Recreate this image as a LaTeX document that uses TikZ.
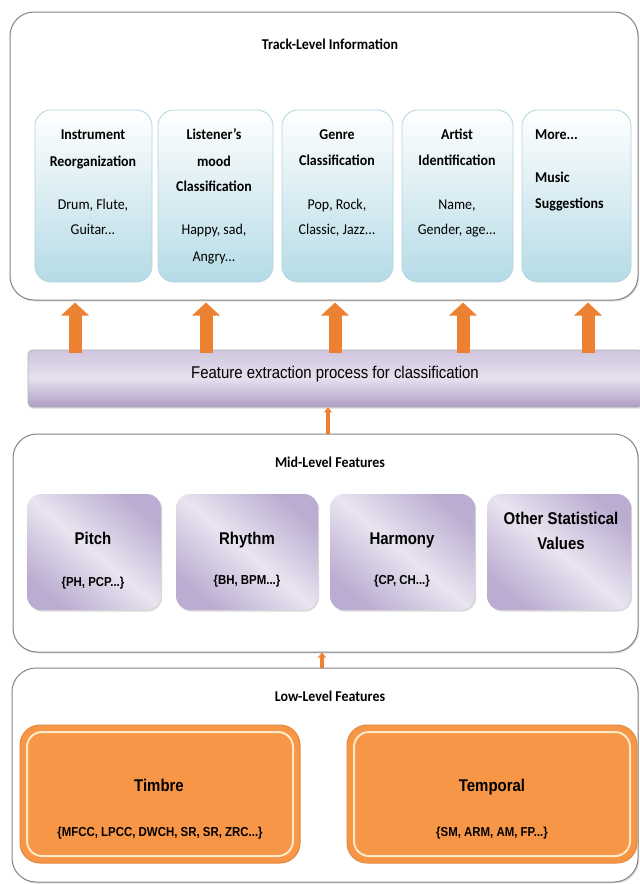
\documentclass[tikz,border=0pt]{standalone}
\usepackage{fontspec}
\setmainfont{Carlito}
\newfontfamily\calfont[FakeStretch=0.93]{Carlito}
\newfontfamily\arfont[FakeStretch=0.88]{Liberation Sans}
\usetikzlibrary{shadows,arrows.meta}
\definecolor{orA}{HTML}{F79646}
\definecolor{orRim}{HTML}{E2893F}
\definecolor{orAr}{HTML}{EC8132}
\definecolor{orLine}{HTML}{FDE8C8}
\definecolor{blB}{HTML}{B5DBE6}
\definecolor{blE}{HTML}{B2D3DD}
\definecolor{puL}{HTML}{E9E4F0}
\definecolor{puD}{HTML}{BBADD1}
\definecolor{barT}{HTML}{CFC5DE}
\definecolor{barB}{HTML}{AE9DC5}
\definecolor{barM}{HTML}{E6E0EE}
\definecolor{grE}{HTML}{858585}
\begin{document}
\begin{tikzpicture}[x=1pt,y=-1pt,
  bigbox/.style={draw=grE, line width=1pt, fill=white, rounded corners=24pt, inner sep=0,
    drop shadow={opacity=0.25, shadow xshift=1.2pt, shadow yshift=-1.5pt}},
  bluebox/.style={draw=blE, line width=0.8pt, top color=white, bottom color=blB, rounded corners=16pt, inner sep=0},
  purbox/.style={top color=puD, bottom color=puD, middle color=puL, shading angle=-40,
    rounded corners=14pt, inner sep=0,
    drop shadow={opacity=0.3, shadow xshift=1.2pt, shadow yshift=-1.5pt}},
  barbox/.style={draw=gray!60, line width=0.6pt, top color=barT, bottom color=barB, middle color=barM,
    rounded corners=4pt, inner sep=0,
    drop shadow={opacity=0.3, shadow xshift=1pt, shadow yshift=-1.5pt}},
  orbox/.style={fill=orA, draw=orRim, line width=1pt, rounded corners=20pt, inner sep=0},
  orline/.style={draw=orLine, line width=2pt, rounded corners=15pt, inner sep=0},
  blockarrow/.style={orAr, line width=13pt, -{Triangle[width=27pt,length=13pt]}},
  smallarrow/.style={orAr, line width=4pt, -{Triangle[width=8pt,length=5pt]}},
  calb/.style={font=\calfont\bfseries\fontsize{15}{18}\selectfont, anchor=base, inner sep=0},
  calr/.style={font=\calfont\fontsize{15}{18}\selectfont, anchor=base, inner sep=0},
  arb/.style={font=\arfont\bfseries\fontsize{17}{20}\selectfont, anchor=base, inner sep=0},
  ars/.style={font=\arfont\bfseries\fontsize{13}{16}\selectfont, anchor=base, inner sep=0},
  arr/.style={font=\arfont\fontsize{17}{20}\selectfont, anchor=base, inner sep=0}
]
\useasboundingbox (0,0) rectangle (640,884);
\fill[white] (0,0) rectangle (640,884);

% ---------- big containers ----------
\node[bigbox, minimum width=628pt, minimum height=288pt] (top) at (324,156) {};
\node[bigbox, minimum width=625pt, minimum height=218pt] (mid) at (325.5,543) {};
\node[bigbox, minimum width=626pt, minimum height=214pt] (low) at (325,775) {};

% ---------- track-level ----------
\node[calb] (ttop) at (330,49) {Track-Level Information};
\node[bluebox, minimum width=117pt, minimum height=172pt] (b1) at (93.5,196) {};
\node[bluebox, minimum width=115pt, minimum height=172pt] (b2) at (215.5,196) {};
\node[bluebox, minimum width=111pt, minimum height=172pt] (b3) at (337.5,196) {};
\node[bluebox, minimum width=111pt, minimum height=172pt] (b4) at (457.5,196) {};
\node[bluebox, minimum width=109pt, minimum height=172pt] (b5) at (576.5,196) {};

\node[calb] (b1a) at (93,139.5) {Instrument};
\node[calb] (b1b) at (93,166.5) {Reorganization};
\node[calr] (b1c) at (93,209.5) {Drum, Flute,};
\node[calr] (b1d) at (93,234.5) {Guitar...};

\node[calb] (b2a) at (214,139.5) {Listener’s};
\node[calb] (b2b) at (214,166.5) {mood};
\node[calb] (b2c) at (214,191.5) {Classification};
\node[calr] (b2d) at (214,234.5) {Happy, sad,};
\node[calr] (b2e) at (214,261) {Angry...};

\node[calb] (b3a) at (337,139.5) {Genre};
\node[calb] (b3b) at (337,165) {Classification};
\node[calr] (b3c) at (337,209.5) {Pop, Rock,};
\node[calr] (b3d) at (337,234.5) {Classic, Jazz...};

\node[calb] (b4a) at (457,139.5) {Artist};
\node[calb] (b4b) at (457,165) {Identification};
\node[calr] (b4c) at (457,209.5) {Name,};
\node[calr] (b4d) at (457,234.5) {Gender, age...};

\node[calb, anchor=base west] (b5a) at (535,139.5) {More...};
\node[calb, anchor=base west] (b5b) at (535,182.5) {Music};
\node[calb, anchor=base west] (b5c) at (535,208) {Suggestions};

% ---------- feature extraction bar ----------
\node[barbox, minimum width=614pt, minimum height=57pt] (bar) at (335,378.5) {};
\node[arr] (bartxt) at (335,378) {Feature extraction process for classification};

\coordinate (a1) at (75,0);
\coordinate (a2) at (206,0);
\coordinate (a3) at (335,0);
\coordinate (a4) at (463,0);
\coordinate (a5) at (588,0);
\foreach \a in {a1,a2,a3,a4,a5}{
  \draw[blockarrow] ([yshift=-3pt]bar.north -| \a) -- ([yshift=-2pt]top.south -| \a);
}

% ---------- mid-level ----------
\coordinate (s1) at (328,0);
\draw[smallarrow] (mid.north -| s1) -- (bar.south -| s1);

\node[calb] (tmid) at (330,467.5) {Mid-Level Features};
\node[purbox, minimum width=134pt, minimum height=116pt] (p1) at (94,552) {};
\node[purbox, minimum width=142pt, minimum height=116pt] (p2) at (247,552) {};
\node[purbox, minimum width=145pt, minimum height=116pt] (p3) at (402.5,552) {};
\node[purbox, minimum width=144pt, minimum height=116pt] (p4) at (559,552) {};

\node[arb] (p1a) at (93,544) {Pitch};
\node[ars] (p1b) at (93,586.5) {\{PH, PCP...\}};
\node[arb] (p2a) at (247,544) {Rhythm};
\node[ars] (p2b) at (247,584.5) {\{BH, BPM...\}};
\node[arb] (p3a) at (402,544) {Harmony};
\node[ars] (p3b) at (402,584.5) {\{CP, CH...\}};
\node[arb] (p4a) at (561,524) {Other Statistical};
\node[arb] (p4b) at (561,549.5) {Values};

% ---------- low-level ----------
\coordinate (s2) at (322,0);
\draw[smallarrow] (low.north -| s2) -- (mid.south -| s2);

\node[calb] (tlow) at (330,701.5) {Low-Level Features};
\node[orbox, minimum width=280pt, minimum height=138pt] (o1) at (160,794) {};
\node[orline, minimum width=266pt, minimum height=124pt] (o1i) at (o1.center) {};
\node[orbox, minimum width=290pt, minimum height=138pt] (o2) at (492,794) {};
\node[orline, minimum width=276pt, minimum height=124pt] (o2i) at (o2.center) {};

\node[arb] (o1a) at (159,791) {Timbre};
\node[ars] (o1b) at (160,836.5) {\{MFCC, LPCC, DWCH, SR, SR, ZRC...\}};
\node[arb] (o2a) at (492,791) {Temporal};
\node[ars] (o2b) at (492,836.5) {\{SM, ARM, AM, FP...\}};
\end{tikzpicture}
\end{document}
